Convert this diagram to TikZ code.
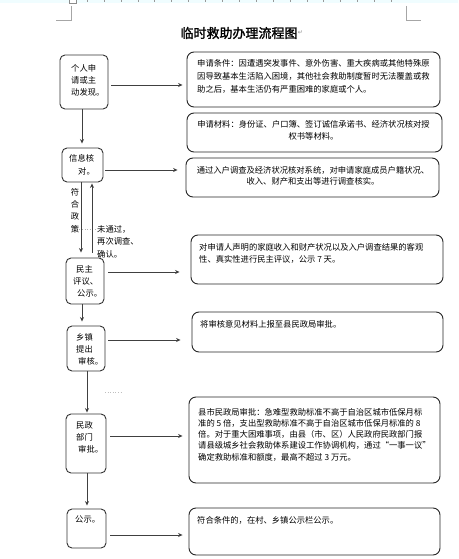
\documentclass[tikz,border=0pt]{standalone}
\usepackage{fontspec}
\newfontfamily\cjk{Noto Sans CJK SC}
\newfontfamily\cjkb{Noto Sans CJK SC}[FakeBold=1.6]
\newfontfamily\dejavu{DejaVu Sans}
\usetikzlibrary{arrows.meta}
\begin{document}
\begin{tikzpicture}[x=1pt,y=-1pt,
  lbox/.style={draw=black!80,line width=0.9pt,rounded corners=5pt,inner sep=0pt},
  rbox/.style={draw=black!85,line width=0.9pt,rounded corners=7pt,inner sep=0pt},
  txt/.style={inner sep=0pt,font=\cjk\fontsize{8.3}{12}\selectfont,text=black},
  arr/.style={-{Stealth[length=4.5pt,width=4pt]},line width=0.8pt,draw=black!75},
  cornermark/.style={draw=black!35,line width=0.6pt}]
\useasboundingbox (0,0) rectangle (458,559);
\fill[white] (0,0) rectangle (458,559);
% ruler
\fill[blue!10!cyan!6] (0,0) rectangle (458,3.5);
\foreach \k in {0,...,18} \draw[black!40,line width=0.4pt] ({87+16.9*\k},0) -- ({87+16.9*\k},2);
\draw[black!45,fill=white,line width=0.5pt] (69,-1) rectangle (76,3);
% corner marks
\draw[cornermark] (71,6) -- (71,20) -- (56,20);
\draw[cornermark] (406,6) -- (406,20) -- (421,20);
% title
\node[inner sep=0pt,font=\cjkb\fontsize{13}{15}\selectfont] (title) at (239,33) {临时救助办理流程图};
\node[inner sep=0pt,font=\dejavu\fontsize{6}{7}\selectfont,text=black!45,anchor=west] (tret) at (title.east) {↵};
% left boxes
\node[lbox,minimum width=48pt,minimum height=54pt] (l1) at (84,82) {};
\node[lbox,minimum width=41pt,minimum height=34pt] (l2) at (82.5,165) {};
\node[lbox,minimum width=38pt,minimum height=46pt] (l3) at (85,281) {};
\node[lbox,minimum width=38pt,minimum height=45pt] (l4) at (86,348.5) {};
\node[lbox,minimum width=40pt,minimum height=59pt] (l5) at (86,443.5) {};
\node[lbox,minimum width=39pt,minimum height=39pt] (l6) at (86.5,528.5) {};
% right boxes
\node[rbox,minimum width=253pt,minimum height=55pt] (r1) at (313.5,79.5) {};
\node[rbox,minimum width=255pt,minimum height=39pt] (r2) at (314.5,132.5) {};
\node[rbox,minimum width=253pt,minimum height=39pt] (r3) at (312.5,177.5) {};
\node[rbox,minimum width=252pt,minimum height=49pt] (r4) at (317,259.5) {};
\node[rbox,minimum width=251pt,minimum height=40pt] (r5) at (317.5,332) {};
\node[rbox,minimum width=251pt,minimum height=86pt] (r6) at (314.5,440) {};
\node[rbox,minimum width=251pt,minimum height=47pt] (r7) at (314.5,531.5) {};
% left texts
\node[txt,anchor=north west,align=left] (t1) at (71,64) {个人申\\请或主\\动发现。};
\node[txt,anchor=north west,align=left,font=\cjk\fontsize{8.3}{13}\selectfont] (t2) at (69,154) {信息核\\\hspace*{9pt}对。};
\node[txt,anchor=north west,align=left] (t3) at (73,265) {\hspace*{3pt}民主\\评议、\\\hspace*{4pt}公示。};
\node[txt,anchor=north west,align=left] (t4) at (76,333) {乡镇\\提出\\\hspace*{2pt}审核。};
\node[txt,anchor=north west,align=left] (t5) at (76,421) {民政\\部门\\\hspace*{2pt}审批。};
\node[txt,anchor=north west,align=left] (t6) at (75,515) {公示。};
% right texts
\node[txt,anchor=north west,align=left,font=\cjk\fontsize{8.3}{13}\selectfont] (rt1) at (197,59) {申请条件：因遭遇突发事件、意外伤害、重大疾病或其他特殊原\\因导致基本生活陷入困境，其他社会救助制度暂时无法覆盖或救\\助之后，基本生活仍有严重困难的家庭或个人。};
\node[txt,anchor=north,align=center] (rt2) at (313.5,120) {申请材料：身份证、户口簿、签订诚信承诺书、经济状况核对授\\权书等材料。};
\node[txt,anchor=north,align=center,font=\cjk\fontsize{8.3}{11.5}\selectfont] (rt3) at (313,166) {通过入户调查及经济状况核对系统，对申请家庭成员户籍状况、\\收入、财产和支出等进行调查核实。};
\node[txt,anchor=north west,align=left] (rt4) at (199,243) {对申请人声明的家庭收入和财产状况以及入户调查结果的客观\\性、真实性进行民主评议，公示 7 天。};
\node[txt,anchor=north west,align=left] (rt5) at (200,320) {将审核意见材料上报至县民政局审批。};
\node[txt,anchor=north west,align=left,font=\cjk\fontsize{8.3}{11.2}\selectfont] (rt6) at (198,408) {县市民政局审批：急难型救助标准不高于自治区城市低保月标\\准的 5 倍，支出型救助标准不高于自治区城市低保月标准的 8\\倍。对于重大困难事项，由县（市、区）人民政府民政部门报\\请县级城乡社会救助体系建设工作协调机构，通过“一事一议”\\确定救助标准和额度，最高不超过 3 万元。};
\node[txt,anchor=north west,align=left] (rt7) at (197,516) {符合条件的，在村、乡镇公示栏公示。};
% side labels
\node[txt,anchor=north,align=center,font=\cjk\fontsize{8.3}{12.3}\selectfont] (fh) at (75,188) {符\\合\\政\\策};
\node[txt,anchor=north west,align=left,font=\cjk\fontsize{8.3}{12.5}\selectfont] (wtg) at (97,225) {未通过，\\再次调查、\\确认。};
\draw[black!30,dotted,line width=0.6pt] (fh.south east |- 0,229) -- (wtg.west |- 0,229);
\coordinate (dl) at (105,392);
\coordinate (dr) at (122,392);
\draw[black!25,dotted,line width=0.6pt] (dl) -- (dr);
% horizontal arrows
\draw[arr,shorten <=3pt,shorten >=4pt] (l1.east |- 0,85) -- (r1.west |- 0,85);
\draw[arr,shorten <=2pt,shorten >=8pt] (l2.east |- 0,170) -- (r3.west |- 0,170);
\draw[arr,shorten <=4pt,shorten >=11pt] (l3.east |- 0,272) -- (r4.west |- 0,272);
\draw[arr,shorten <=3pt,shorten >=11pt] (l4.east |- 0,340) -- (r5.west |- 0,340);
\draw[arr,shorten <=4pt,shorten >=6pt] (l5.east |- 0,436) -- (r6.west |- 0,436);
\draw[arr,shorten <=4pt,shorten >=6pt] (l6.east |- 0,535) -- (r7.west |- 0,535);
% vertical arrows
\draw[arr,shorten >=4pt] (l1.south -| 82,0) -- (l2.north -| 82,0);
\draw[arr,shorten >=5pt] (l2.south -| 81,0) -- (l3.north -| 81,0);
\draw[arr,shorten <=5pt,shorten >=1pt] (l3.north -| 92,0) -- (l2.south -| 92,0);
\draw[arr,shorten >=4pt] (l3.south -| 82,0) -- (l4.north -| 82,0);
\draw[arr,shorten >=1pt] (l4.south -| 87,0) -- (l5.north -| 87,0);
\draw[arr,shorten >=3pt] (l5.south -| 87,0) -- (l6.north -| 87,0);
\end{tikzpicture}
\end{document}
